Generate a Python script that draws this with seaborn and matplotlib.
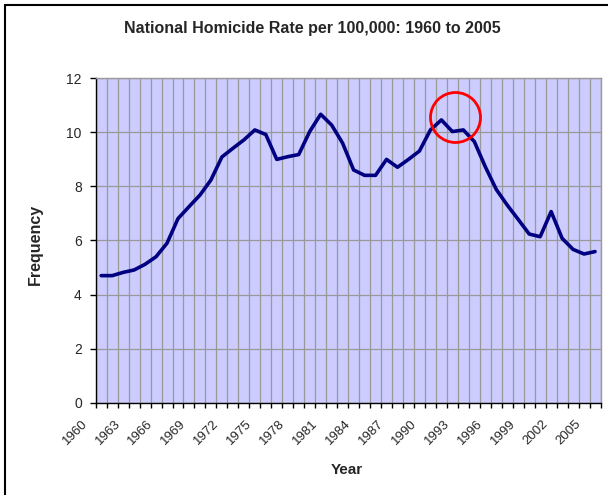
"""Nachbau des Excel-Diagramms: National Homicide Rate per 100,000 (1960-2005)."""
import numpy as np
import pandas as pd
import matplotlib
matplotlib.use("Agg")
import matplotlib.pyplot as plt
import matplotlib.transforms as mtransforms
from matplotlib.patches import Rectangle
import seaborn as sns

# Daten
years = list(range(1960, 2006))
rates = [4.70, 4.70, 4.82, 4.91, 5.12, 5.40, 5.90, 6.81, 7.25, 7.68,
         8.24, 9.09, 9.41, 9.72, 10.09, 9.92, 9.00, 9.10, 9.18, 10.03,
         10.67, 10.27, 9.60, 8.61, 8.41, 8.41, 9.00, 8.71, 9.00, 9.31,
         10.09, 10.46, 10.03, 10.09, 9.66, 8.73, 7.89, 7.31, 6.78, 6.24,
         6.14, 7.07, 6.08, 5.67, 5.50, 5.59]
label_years = years[::3]
y_ticks = [0, 2, 4, 6, 8, 10, 12]

# markierter Bereich (roter Kreis)
highlight_year = 1992.2
highlight_rate = 10.57

df = pd.DataFrame({"year": years, "rate": rates})

sns.set_style("ticks")
plt.rcParams["font.family"] = ["Liberation Sans", "DejaVu Sans"]

fig, ax = plt.subplots(figsize=(6.08, 4.95), dpi=100)
fig.subplots_adjust(left=0.1574, right=0.9877, bottom=0.1865, top=0.8418)

ax.set_facecolor("#CCCCFF")
sns.lineplot(data=df, x="year", y="rate", color="#000080", linewidth=2.6, ax=ax)

# roter Kreis
ax.plot([highlight_year], [highlight_rate], marker="o", markersize=36,
        markerfacecolor="none", markeredgecolor="#FF0000", markeredgewidth=2.0)

# Kategorieachse wie in Excel: Grenzen als Ticks, Beschriftung in der Mitte
bounds = np.arange(years[0] - 0.5, years[-1] + 1.0, 1.0)
ax.set_xlim(bounds[0], bounds[-1])
ax.set_xticks(bounds)
ax.set_xticklabels([])
ax.set_xticks(label_years, minor=True)
ax.set_xticklabels([str(y) for y in label_years], minor=True, rotation=45,
                   ha="right", va="top", rotation_mode="anchor", fontsize=9.5)
ax.tick_params(axis="x", which="major", direction="out", length=3.5, width=1, color="black")
ax.tick_params(axis="x", which="minor", length=0, pad=5)
offset = mtransforms.ScaledTranslation(-0.20, -0.08, fig.dpi_scale_trans)
for lbl in ax.get_xticklabels(minor=True):
    lbl.set_transform(lbl.get_transform() + offset)

ax.set_ylim(0, 12)
ax.set_yticks(y_ticks)
ax.set_yticklabels([str(v) for v in y_ticks], fontsize=10)
ax.tick_params(axis="y", direction="out", length=4, width=1, color="black", pad=6)

ax.grid(axis="x", which="major", color="#999999", linewidth=0.9)
ax.grid(axis="y", color="#999999", linewidth=0.9)
ax.set_axisbelow(True)

for side in ["left", "bottom"]:
    ax.spines[side].set_color("black")
    ax.spines[side].set_linewidth(1.0)
for side in ["top", "right"]:
    ax.spines[side].set_visible(True)
    ax.spines[side].set_color("#999999")
    ax.spines[side].set_linewidth(1.0)

# Beschriftungen
ax.set_xlabel("Year", fontsize=11, fontweight="bold")
ax.set_ylabel("Frequency", fontsize=11.5, fontweight="bold")
ax.xaxis.set_label_coords(0.497, -0.186)
ax.yaxis.set_label_coords(-0.104, 0.489)
fig.text(0.513, 1 - 29 / 495, "National Homicide Rate per 100,000: 1960 to 2005",
         ha="center", va="center", fontsize=11.5, fontweight="bold")

# Rahmen um das Diagramm
fig.add_artist(Rectangle((5 / 608, -0.05), 1.05, 1 - 5 / 495 + 0.05,
                         transform=fig.transFigure, fill=False,
                         edgecolor="black", linewidth=1.5))

fig.savefig("out.png", dpi=100)
plt.close(fig)
